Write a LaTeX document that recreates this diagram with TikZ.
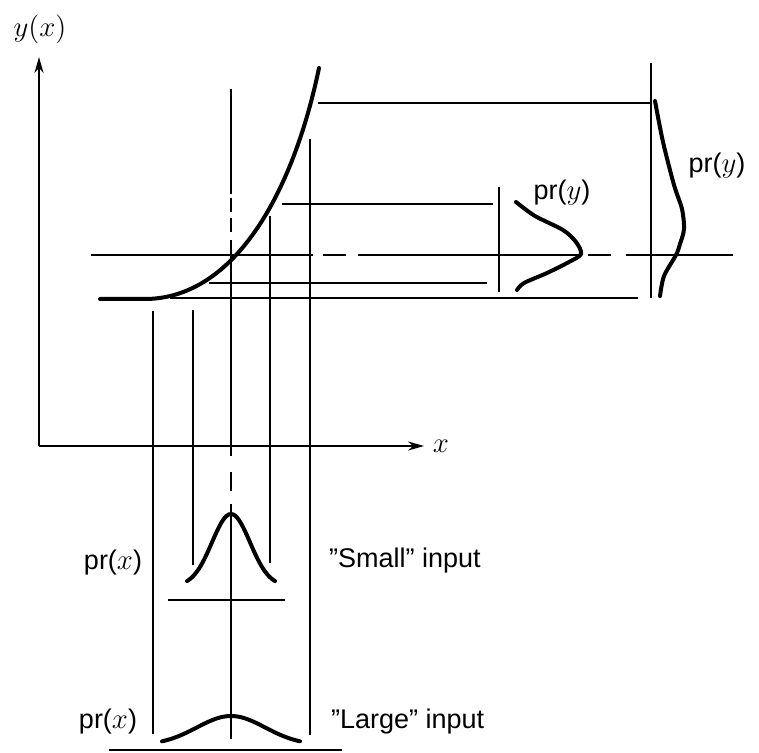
\documentclass[tikz,border=0pt]{standalone}
\usepackage{amsmath}
\usepackage{fontspec}
\setsansfont{Liberation Sans}
\usetikzlibrary{arrows.meta}

\newcommand{\prlab}[1]{\textsf{pr(}$#1$\textsf{)}}

\begin{document}
\begin{tikzpicture}[x=0.5pt, y=-0.5pt,
    thin line/.style={line width=0.9pt},
    curve/.style={line width=2pt, line cap=round},
    axis/.style={line width=0.9pt, -{Stealth[length=8pt,width=4.5pt]}},
    every node/.style={font=\fontsize{13.5}{16}\selectfont}]
  \useasboundingbox (0,0) rectangle (759,753);

  % axes
  \coordinate (O) at (39,446);
  \coordinate (ytip) at (39,57);
  \coordinate (xtip) at (424,446);
  \draw[axis] (O) -- (ytip);
  \draw[axis] (O) -- (xtip);
  \node (ylab) at (40,29) {$y(x)$};
  \node (xlab) at (441,446) {$x$};

  % transfer curve
  \draw[curve] (100,299) -- (147,299) .. controls (235,297) and (293,193) .. (319,68);

  % projections of y
  \draw[thin line] (318,103) -- (651,103);
  \draw[thin line] (282,204) -- (493,204);
  \draw[thin line] (91,255) -- (313,255) (323,255) -- (346,255) (358,255) -- (579,255)
                   (588,255) -- (611,255) (626,255) -- (733,255);
  \draw[thin line] (209,283) -- (487,283);
  \draw[thin line] (170,298) -- (638,298);

  % projections of x
  \draw[thin line] (153,311) -- (153,734);
  \draw[thin line] (193,310) -- (193,565);
  \draw[thin line] (231,89) -- (231,194) (231,198) -- (231,212) (231,218) -- (231,232)
                   (231,240) -- (231,456) (231,472) -- (231,491) (231,504) -- (231,739);
  \draw[thin line] (270,216) -- (270,563);
  \draw[thin line] (310,139) -- (310,735);

  % small input
  \draw[curve] plot[domain=-44:44, samples=45] ({231+\x}, {586-72*exp(-(\x*\x)/722)});
  \draw[thin line] (168,600) -- (285,600);
  \node (prxs) at (113,563) {\prlab{x}};
  \node[anchor=west] (small) at (322,561) {\sffamily ''Small'' input};

  % large input
  \draw[curve] plot[domain=-69:69, samples=60] ({231+\x}, {745-29*exp(-(\x*\x)/2312)});
  \draw[thin line] (109,750) -- (342,750);
  \node (prxl) at (108,722) {\prlab{x}};
  \node[anchor=west] (large) at (324,722) {\sffamily ''Large'' input};

  % output densities
  \draw[thin line] (499,187) -- (499,292);
  \draw[curve] plot[smooth] coordinates {(516,202) (535,216) (563,230) (576,242) (581,254)
                                         (569,262) (547,273) (524,283) (517,290)};
  \node (prys) at (562,193) {\prlab{y}};

  \draw[thin line] (651,63) -- (651,298);
  \draw[curve] plot[smooth] coordinates {(655,101) (663,142) (674,185) (682,209) (684,229)
                                         (680,244) (676,255) (664,276) (660,296)};
  \node (pryl) at (717,166) {\prlab{y}};
\end{tikzpicture}
\end{document}
